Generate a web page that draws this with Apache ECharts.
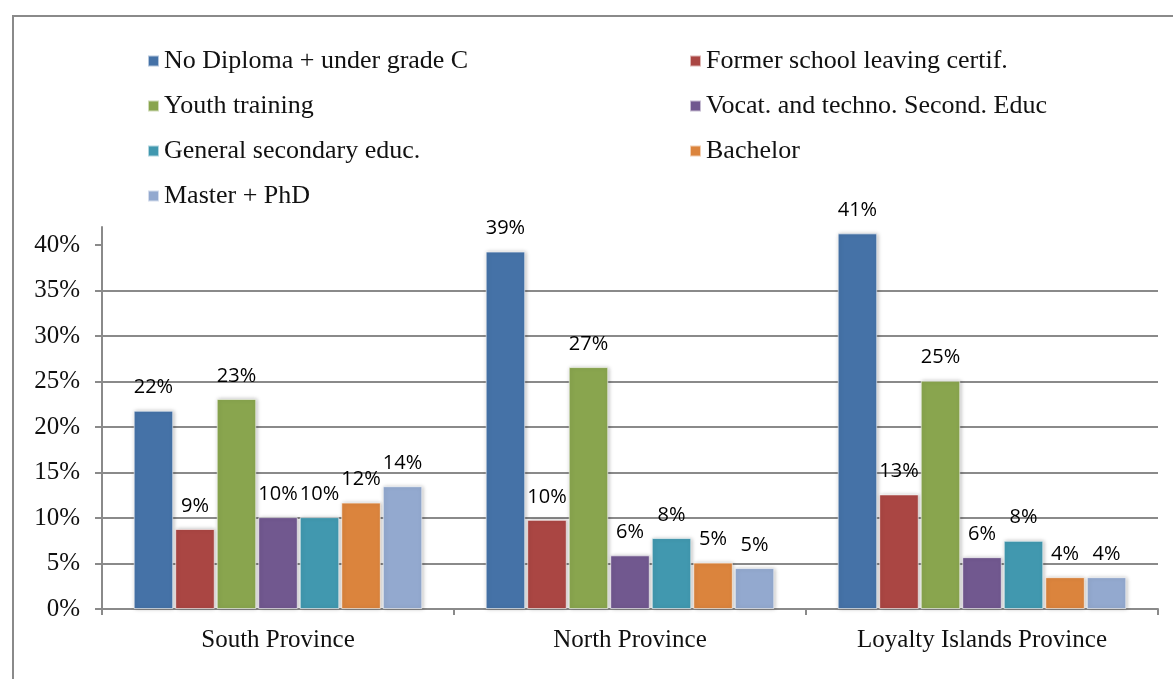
<!DOCTYPE html>
<html>
<head>
<meta charset="utf-8">
<script src="https://cdn.jsdelivr.net/npm/echarts@6/dist/echarts.min.js"></script>
<style>
  html, body { margin: 0; padding: 0; background: #fff; overflow: hidden; }
  .frame {
    position: absolute; left: 12px; top: 15px;
    width: 1200px; height: 700px;
    border: 2px solid #8a8a8a;
  }
  #chart { position: absolute; left: 0; top: 0; width: 1173px; height: 679px; }
</style>
</head>
<body>
<div class="frame"></div>
<div id="chart"></div>
<script>
const provinces = ['South Province', 'North Province', 'Loyalty Islands Province'];
const seriesNames = [
  'No Diploma + under grade C',
  'Former school leaving certif.',
  'Youth training',
  'Vocat. and techno. Second. Educ',
  'General secondary educ.',
  'Bachelor',
  'Master + PhD'
];
const noDiploma = [21.8, 39.3, 41.3];
const formerCertif = [8.8, 9.8, 12.6];
const youthTraining = [23.1, 26.6, 25.1];
const vocational = [10.1, 5.9, 5.7];
const generalSecondary = [10.1, 7.8, 7.5];
const bachelor = [11.7, 5.1, 3.5];
const masterPhd = [13.5, 4.5, 3.5];
const yTicks = [0, 5, 10, 15, 20, 25, 30, 35, 40];

const colors = ['#4572A7', '#AA4643', '#89A54E', '#71588F', '#4198AF', '#DB843D', '#93A9CF'];
const allValues = [noDiploma, formerCertif, youthTraining, vocational, generalSecondary, bachelor, masterPhd];

const serif = '"Liberation Serif", "DejaVu Serif", serif';

const chart = echarts.init(document.getElementById('chart'));

const legendText = { fontFamily: serif, fontSize: 26, color: '#111', lineHeight: 26 };

const option = {
  animation: false,
  color: colors,
  legend: [
    {
      data: [seriesNames[0], seriesNames[2], seriesNames[4], seriesNames[6]],
      orient: 'vertical',
      left: 142, top: 43,
      itemWidth: 11, itemHeight: 11, itemGap: 19,
      icon: 'rect',
      textStyle: legendText
    },
    {
      data: [seriesNames[1], seriesNames[3], seriesNames[5]],
      orient: 'vertical',
      left: 684, top: 43,
      itemWidth: 11, itemHeight: 11, itemGap: 19,
      icon: 'rect',
      textStyle: legendText
    }
  ],
  grid: { left: 102, right: 15, top: 227, bottom: 70, containLabel: false },
  xAxis: {
    type: 'category',
    data: provinces,
    axisLine: { lineStyle: { color: '#8a8a8a', width: 2 } },
    axisTick: { show: true, length: 6, lineStyle: { color: '#8a8a8a', width: 2 } },
    axisLabel: { fontFamily: serif, fontSize: 25, color: '#111', margin: 19 }
  },
  yAxis: {
    type: 'value',
    min: 0, max: 42, interval: 5,
    axisLine: { show: true, lineStyle: { color: '#8a8a8a', width: 2 } },
    axisTick: { show: true, length: 7, customValues: yTicks, lineStyle: { color: '#8a8a8a', width: 2 } },
    splitLine: { show: true, showMaxLine: false, lineStyle: { color: '#8a8a8a', width: 2 } },
    axisLabel: {
      customValues: yTicks,
      fontFamily: serif, fontSize: 25, color: '#111', margin: 22,
      formatter: v => v + '%'
    }
  },
  series: allValues.map((vals, i) => ({
    name: seriesNames[i],
    type: 'bar',
    data: vals,
    barGap: '5%',
    barCategoryGap: '18%',
    itemStyle: {
      color: colors[i],
      borderColor: 'rgba(255,255,255,0.6)',
      borderWidth: 1,
      shadowColor: 'rgba(0,0,0,0.25)',
      shadowBlur: 4,
      shadowOffsetX: 1,
      shadowOffsetY: 0
    },
    label: {
      show: true,
      position: 'top',
      distance: 13,
      fontFamily: '"Open Sans", "Noto Sans", sans-serif',
      fontSize: 20,
      color: '#000',
      formatter: p => Math.round(p.value) + '%'
    }
  }))
};

chart.setOption(option);
</script>
</body>
</html>
